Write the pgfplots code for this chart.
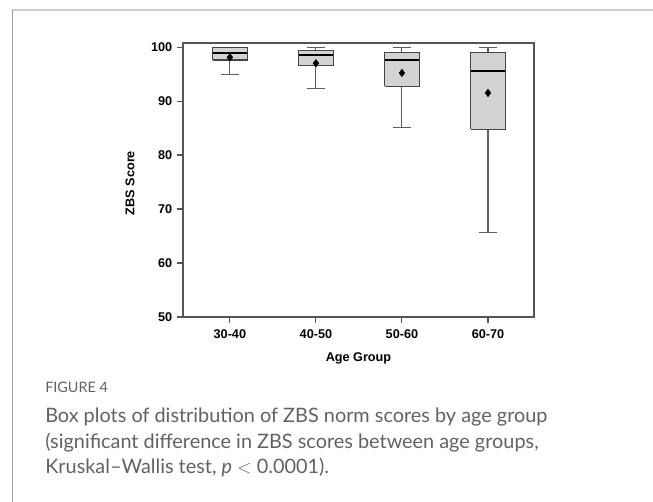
\documentclass[border=0pt]{standalone}
\usepackage{pgfplots}
\pgfplotsset{compat=1.18}
\usepackage{fontspec}
\setmainfont{Liberation Sans}
\newfontfamily\capfont{Lato}
\definecolor{boxfill}{HTML}{D3D3D3}
\definecolor{boxedge}{HTML}{444444}
\definecolor{axgray}{HTML}{555555}
\definecolor{whgray}{HTML}{5E5E5E}
\definecolor{captext}{HTML}{626262}
\begin{document}
\begin{tikzpicture}
\path[use as bounding box] (0,0) rectangle (489.75pt,-376.5pt);
\draw[draw=black!20, line width=1.5pt] (9pt,-7.5pt) -- (489.75pt,-7.5pt);
\draw[draw=black!38, line width=0.75pt] (9pt,-7.5pt) -- (9pt,-376.5pt);
\begin{axis}[
  at={(137.25pt,-237.75pt)}, anchor=south west,
  scale only axis, width=263.25pt, height=205.5pt,
  xmin=-0.545, xmax=3.535, ymin=50, ymax=100.75,
  xtick={0,1,2,3}, xticklabels={30-40,40-50,50-60,60-70},
  ytick={50,60,70,80,90,100},
  tick align=outside, xtick pos=bottom, ytick pos=left,
  major tick length=4.5pt,
  axis line style={axgray, line width=0.9pt},
  every tick/.style={axgray, line width=0.8pt},
  tick label style={font=\bfseries\fontsize{9.5}{10}\selectfont},
  xticklabel style={yshift=-1.5pt},
  /pgf/number format/assume math mode=true,
  xlabel={Age Group}, ylabel={ZBS Score},
  label style={font=\bfseries\fontsize{9.5}{10}\selectfont},
  xlabel style={at={(axis description cs:0.5,-0.15)}, anchor=center},
  ylabel style={at={(axis description cs:-0.151,0.489)}, anchor=center},
  whisk/.style={draw=whgray, line width=0.8pt, mark=none},
  boxst/.style={draw=boxedge, fill=boxfill, line width=0.8pt, mark=none},
  medst/.style={draw=black, line width=1.3pt, mark=none},
]
% ---- 30-40: lw 95.0, lq 97.6, med 98.9, uq 99.9, uw 100, mean 98.1
\addplot[whisk] coordinates {(0,95.0) (0,100)};
\addplot[whisk] coordinates {(-0.105,95.0) (0.105,95.0)};
\addplot[whisk] coordinates {(-0.105,100) (0.105,100)};
\addplot[boxst] coordinates {(-0.2,97.6) (0.2,97.6) (0.2,99.9) (-0.2,99.9) (-0.2,97.6)};
\addplot[medst] coordinates {(-0.2,98.9) (0.2,98.9)};
% ---- 40-50: lw 92.3, lq 96.5, med 98.5, uq 99.4, uw 100, mean 97.0
\addplot[whisk] coordinates {(1,92.3) (1,100)};
\addplot[whisk] coordinates {(0.895,92.3) (1.105,92.3)};
\addplot[whisk] coordinates {(0.895,100) (1.105,100)};
\addplot[boxst] coordinates {(0.8,96.5) (1.2,96.5) (1.2,99.4) (0.8,99.4) (0.8,96.5)};
\addplot[medst] coordinates {(0.8,98.5) (1.2,98.5)};
% ---- 50-60: lw 85.1, lq 92.7, med 97.6, uq 99.0, uw 100, mean 95.2
\addplot[whisk] coordinates {(2,85.1) (2,100)};
\addplot[whisk] coordinates {(1.895,85.1) (2.105,85.1)};
\addplot[whisk] coordinates {(1.895,100) (2.105,100)};
\addplot[boxst] coordinates {(1.8,92.7) (2.2,92.7) (2.2,99.0) (1.8,99.0) (1.8,92.7)};
\addplot[medst] coordinates {(1.8,97.6) (2.2,97.6)};
% ---- 60-70: lw 65.7, lq 84.8, med 95.5, uq 99.0, uw 100, mean 91.5
\addplot[whisk] coordinates {(3,65.7) (3,100)};
\addplot[whisk] coordinates {(2.895,65.7) (3.105,65.7)};
\addplot[whisk] coordinates {(2.895,100) (3.105,100)};
\addplot[boxst] coordinates {(2.8,84.8) (3.2,84.8) (3.2,99.0) (2.8,99.0) (2.8,84.8)};
\addplot[medst] coordinates {(2.8,95.5) (3.2,95.5)};
% ---- means
\addplot[only marks, mark=diamond*, mark size=2.8pt, draw=black, fill=black] coordinates {(0,98.1) (1,97.0) (2,95.2) (3,91.5)};
\end{axis}
\node[anchor=base west, inner sep=0pt, text=captext, font=\capfont\fontsize{10.8}{12}\selectfont] at (33.75pt,-294pt) {FIGURE 4};
\begin{scope}[every node/.style={anchor=base west, inner sep=0pt, text=captext, font=\capfont\fontsize{14.9}{17}\selectfont}]
\node at (33.75pt,-316.5pt) {Box plots of distribution of ZBS norm scores by age group};
\node at (33.75pt,-336pt) {(significant difference in ZBS scores between age groups,};
\node at (33.75pt,-355pt) {Kruskal–Wallis test, {\itshape p} $<$ 0.0001).};
\end{scope}
\end{tikzpicture}
\end{document}
